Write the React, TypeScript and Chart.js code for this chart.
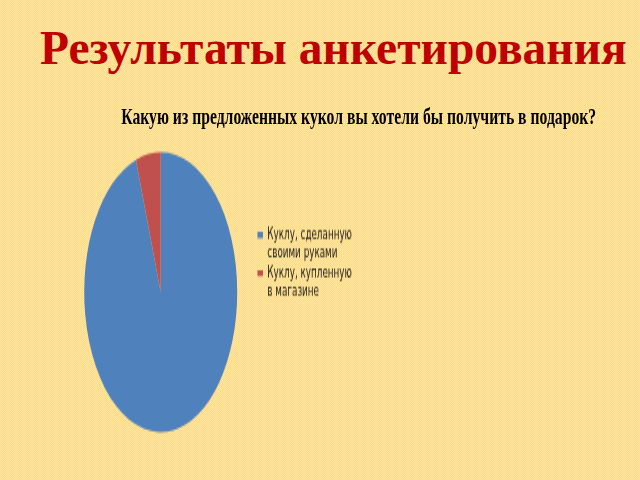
import React, { useEffect, useRef } from "react";
import { Chart, registerables } from "chart.js";

Chart.register(...registerables);

const slideTitle = "Результаты анкетирования";
const chartTitle = "Какую из предложенных кукол вы хотели бы получить в подарок?";
const categories: string[][] = [
  ["Куклу, сделанную", "своими руками"],
  ["Куклу, купленную", "в магазине"],
];
const values: number[] = [18, 1];
const sliceColors: string[] = ["#4F81BD", "#C0504D"];

const STRETCH = 1.83;

export default function App() {
  const ref = useRef<HTMLCanvasElement | null>(null);

  useEffect(() => {
    if (!ref.current) return;
    const chart = new Chart(ref.current, {
      type: "pie",
      data: {
        labels: categories as any,
        datasets: [
          {
            data: values,
            backgroundColor: sliceColors,
            borderWidth: 0,
            radius: 76.5,
            clip: false,
          } as any,
        ],
      },
      options: {
        animation: false,
        responsive: true,
        maintainAspectRatio: false,
        events: [],
        layout: { padding: { left: 65, top: 68.4, bottom: 66.4, right: 278 } },
        plugins: {
          title: { display: false },
          tooltip: { enabled: false },
          legend: {
            position: "right",
            align: "start",
            fullSize: false,
            labels: {
              boxWidth: 5.5,
              boxHeight: 3.4,
              padding: 1,
              color: "#1a1a1a",
              font: { family: "'DejaVu Sans', sans-serif", size: 8.8, lineHeight: 1.125 },
            },
          },
        },
      },
    });
    return () => chart.destroy();
  }, []);

  return (
    <div
      style={{
        position: "absolute",
        left: 0,
        top: 0,
        width: 640,
        height: 480,
        overflow: "hidden",
        background: "repeating-conic-gradient(#FDDA83 0 25%, #FFE7A3 0 50%) 0 0 / 2px 2px",
      }}
    >
      <div
        style={{
          position: "absolute",
          left: 40,
          top: 25.2,
          font: "bold 47.5px 'Liberation Serif', serif",
          lineHeight: 1,
          color: "#C00000",
          whiteSpace: "nowrap",
        }}
      >
        {slideTitle}
      </div>
      <div
        style={{
          position: "absolute",
          left: 0,
          top: 100,
          width: 640,
          height: 208,
          transform: `scaleY(${STRETCH})`,
          transformOrigin: "0 0",
        }}
      >
        <div
          style={{
            position: "absolute",
            left: 59,
            top: -1.1,
            width: 600,
            textAlign: "center",
            whiteSpace: "nowrap",
          }}
        >
          <span
            style={{
              display: "inline-block",
              font: "bold 13px 'Liberation Serif', serif",
              lineHeight: 1,
              color: "#000",
              transform: "scaleX(1.207)",
            }}
          >
            {chartTitle}
          </span>
        </div>
        <div style={{ position: "absolute", left: 0, top: 0, width: 640, height: 208 }}>
          <canvas ref={ref} />
        </div>
      </div>
    </div>
  );
}
